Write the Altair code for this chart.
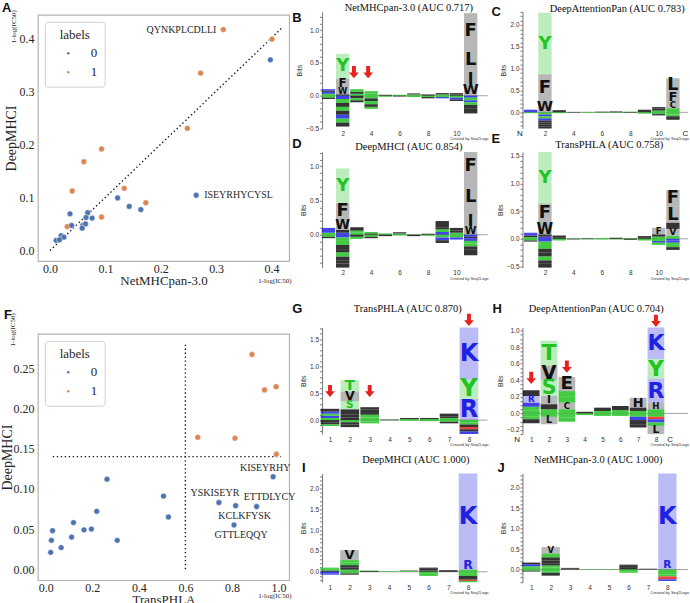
import altair as alt
import pandas as pd

SERIF = "Liberation Serif"
SANS = "Liberation Sans"
INK = "#262626"
BLUE, ORANGE, RED = "#4c72b0", "#dd8452", "#e8201e"

# ---------------- Panel A: NetMHCpan-3.0 vs DeepMHCI ----------------
A_net = [0.313, 0.401, 0.272, 0.248, 0.093, 0.061, 0.040, 0.134, 0.173, 0.093, 0.031,
         0.398, 0.264, 0.122, 0.143, 0.164, 0.036, 0.068, 0.065, 0.076, 0.039, 0.059,
         0.064, 0.058, 0.020, 0.025, 0.011, 0.017]
A_deep = [0.416, 0.398, 0.334, 0.230, 0.191, 0.167, 0.112, 0.117, 0.090, 0.063, 0.045,
          0.359, 0.104, 0.099, 0.083, 0.077, 0.069, 0.071, 0.062, 0.061, 0.047, 0.047,
          0.050, 0.042, 0.028, 0.025, 0.019, 0.020]
A_label = [1] * 11 + [0] * 17
A_pep = ["QYNKPLCDLLI"] + [""] * 11 + ["ISEYRHYCYSL"] + [""] * 15
A_diag = [0.0, 0.42]

# ---------------- Panel F: TransPHLA vs DeepMHCI ----------------
F_trans = [0.886, 0.940, 0.990, 0.653, 0.813, 0.991,
           0.977, 0.744, 0.816, 0.906, 0.809, 0.506, 0.527, 0.263, 0.219, 0.119,
           0.164, 0.196, 0.111, 0.029, 0.024, 0.307, 0.066, 0.021]
F_deep = [0.267, 0.223, 0.227, 0.164, 0.163, 0.143,
          0.115, 0.083, 0.079, 0.078, 0.055, 0.091, 0.065, 0.112, 0.072, 0.058,
          0.049, 0.050, 0.040, 0.048, 0.036, 0.036, 0.027, 0.021]
F_label = [1] * 6 + [0] * 18
F_pep = [""] * 6 + ["KISEYRHY", "YSKISEYR", "KCLKFYSK", "ETTDLYCY", "GTTLEQQY"] + [""] * 13
F_vline = {"x": [0.6], "y": [0.0], "y2": [0.279]}
F_hline = {"x": [0.03], "x2": [1.01], "y": [0.14]}

# ---------------- Sequence logos: (position, residue, bits) ----------------
B_logo = [
    (1, 'S', .03), (1, 'K', .03), (1, 'A', .02), (1, 'R', .02), (1, 'G', -.03), (1, 'V', -.02),
    (2, 'A', .02), (2, 'W', .10), (2, 'F', .14), (2, 'Y', .38),
    (2, 'K', -.05), (2, 'S', -.06), (2, 'I', -.06), (2, 'G', -.06), (2, 'V', -.06), (2, 'R', -.06), (2, 'Q', -.06), (2, 'L', -.06),
    (3, 'G', .03), (3, 'A', .03), (3, 'T', .04), (3, 'L', -.04), (3, 'S', -.03), (3, 'A', -.03),
    (4, 'S', .03), (4, 'Y', .04), (4, 'G', -.04), (4, 'A', -.04), (4, 'T', -.05), (4, 'L', -.04), (4, 'Q', -.03),
    (5, 'A', .015), (5, 'G', -.015), (6, 'S', .015), (6, 'A', -.01),
    (7, 'G', .02), (7, 'A', .015), (7, 'S', -.02), (8, 'A', .02), (8, 'G', -.02), (8, 'V', -.02),
    (9, 'S', .02), (9, 'A', .02), (9, 'G', -.02), (9, 'K', -.02),
    (10, 'A', .02), (10, 'L', .02), (10, 'G', -.03), (10, 'R', -.03), (10, 'V', -.02),
    (11, 'W', .17), (11, 'I', .18), (11, 'L', .38), (11, 'F', .53),
    (11, 'R', -.03), (11, 'G', -.04), (11, 'K', -.03), (11, 'S', -.04), (11, 'P', -.05), (11, 'V', -.08),
]
C_logo = [
    (1, 'K', .03), (1, 'R', .03), (1, 'G', -.02),
    (2, 'W', .26), (2, 'F', .61), (2, 'Y', 1.41),
    (2, 'G', -.05), (2, 'R', -.04), (2, 'S', -.05), (2, 'K', -.05), (2, 'A', -.04), (2, 'L', -.05), (2, 'I', -.05), (2, 'V', -.04),
    (3, 'A', .03), (3, 'L', .02), (3, 'G', -.02), (4, 'S', .01), (4, 'A', -.01),
    (5, 'G', .01), (5, 'S', -.01), (6, 'A', .015), (6, 'G', -.01), (7, 'L', .02), (7, 'S', -.01),
    (8, 'G', .015), (8, 'A', -.01), (9, 'A', .03), (9, 'L', .03), (9, 'S', -.03),
    (10, 'G', .04), (10, 'L', .05), (10, 'F', .03), (10, 'S', -.04), (10, 'A', -.03),
    (11, 'T', .09), (11, 'C', .15), (11, 'F', .23), (11, 'L', .31),
    (11, 'G', -.05), (11, 'S', -.04), (11, 'I', -.08),
]
D_logo = [
    (1, 'S', .03), (1, 'K', .04), (1, 'R', .03), (1, 'G', -.03), (1, 'A', -.02),
    (2, 'K', .03), (2, 'A', .04), (2, 'W', .15), (2, 'F', .24), (2, 'Y', .51),
    (2, 'R', -.04), (2, 'S', -.05), (2, 'G', -.06), (2, 'V', -.06), (2, 'I', -.05), (2, 'Q', -.06), (2, 'A', -.06), (2, 'P', -.04), (2, 'L', -.06),
    (3, 'G', .03), (3, 'S', .03), (3, 'M', .05), (3, 'A', -.03), (3, 'G', -.03),
    (4, 'A', .02), (4, 'G', .02), (4, 'S', -.03), (4, 'L', -.02), (5, 'S', .02), (5, 'A', -.02),
    (6, 'G', .02), (6, 'A', .015), (6, 'S', -.01), (7, 'G', .005), (7, 'A', -.02),
    (8, 'A', .015), (8, 'G', -.015),
    (9, 'K', .04), (9, 'S', .04), (9, 'A', .03), (9, 'F', .09), (9, 'G', -.04), (9, 'R', -.04), (9, 'V', -.04),
    (10, 'S', .03), (10, 'A', .03), (10, 'L', .04), (10, 'G', -.04), (10, 'K', -.03),
    (11, 'W', .12), (11, 'I', .17), (11, 'L', .51), (11, 'F', .41),
    (11, 'R', -.03), (11, 'E', -.02), (11, 'K', -.04), (11, 'S', -.04), (11, 'G', -.04), (11, 'I', -.05), (11, 'V', -.08),
]
E_logo = [
    (1, 'S', .03), (1, 'A', .03), (1, 'K', .03), (1, 'R', .02), (1, 'G', -.03), (1, 'A', -.02),
    (2, 'K', .04), (2, 'A', .04), (2, 'W', .21), (2, 'F', .35), (2, 'Y', .93),
    (2, 'R', -.05), (2, 'S', -.06), (2, 'G', -.07), (2, 'V', -.07), (2, 'I', -.07), (2, 'Q', -.07), (2, 'P', -.05), (2, 'L', -.08),
    (3, 'A', .03), (3, 'L', .03), (3, 'G', -.03), (4, 'S', .01), (4, 'A', -.01),
    (5, 'A', .01), (5, 'G', -.01), (6, 'G', .015), (6, 'S', -.01), (7, 'A', .02), (7, 'G', -.01),
    (8, 'S', .015), (8, 'A', -.015), (9, 'A', .03), (9, 'L', .02), (9, 'S', -.03),
    (10, 'S', .04), (10, 'L', .04), (10, 'F', .12), (10, 'G', -.04), (10, 'R', -.03), (10, 'Q', -.04),
    (11, 'T', .05), (11, 'V', .13), (11, 'I', .11), (11, 'L', .29), (11, 'F', .30),
    (11, 'R', -.03), (11, 'K', -.04), (11, 'G', -.04), (11, 'S', -.04), (11, 'V', -.05),
]
G_logo = [
    (1, 'S', .04), (1, 'R', .04), (1, 'G', .04), (1, 'K', .04), (1, 'A', .05), (1, 'L', -.04), (1, 'V', -.04), (1, 'G', -.03),
    (2, 'L', .05), (2, 'A', .05), (2, 'I', .10), (2, 'S', .15), (2, 'V', .18), (2, 'T', .21), (2, 'G', -.04), (2, 'P', -.04), (2, 'L', -.05),
    (3, 'G', .05), (3, 'S', .05), (3, 'A', .05), (3, 'L', .05), (3, 'M', .04), (3, 'G', -.03), (3, 'S', -.03),
    (4, 'A', .01), (4, 'G', -.005), (5, 'G', .02), (5, 'A', .02), (5, 'S', -.01),
    (6, 'S', .02), (6, 'A', .02), (6, 'G', -.02), (7, 'G', .04), (7, 'A', .03), (7, 'L', .05), (7, 'S', -.03), (7, 'V', -.03),
    (8, 'R', .39), (8, 'Y', .36), (8, 'K', .97),
    (8, 'G', -.04), (8, 'S', -.04), (8, 'A', -.05), (8, 'D', -.04), (8, 'L', -.04), (8, 'K', -.05),
]
H_logo = [
    (1, 'G', .04), (1, 'S', .04), (1, 'K', .05), (1, 'R', .08), (1, 'A', .07), (1, 'S', -.04), (1, 'G', -.03), (1, 'V', -.05),
    (2, 'G', .05), (2, 'A', .06), (2, 'I', .10), (2, 'S', .19), (2, 'V', .18), (2, 'T', .30), (2, 'G', -.04), (2, 'L', -.09),
    (3, 'G', .05), (3, 'C', .08), (3, 'Y', .07), (3, 'S', .07), (3, 'E', .17), (3, 'S', -.05), (3, 'G', -.05),
    (4, 'A', .02), (4, 'G', -.02), (5, 'S', .03), (5, 'A', .04), (5, 'G', -.03),
    (6, 'G', .04), (6, 'L', .05), (6, 'S', -.03),
    (7, 'S', .03), (7, 'A', .04), (7, 'H', .12), (7, 'G', -.04), (7, 'K', -.04), (7, 'L', -.05), (7, 'A', -.04),
    (8, 'G', .05), (8, 'H', .08), (8, 'R', .29), (8, 'Y', .24), (8, 'K', .38),
    (8, 'S', -.04), (8, 'D', -.03), (8, 'K', -.04), (8, 'G', -.04), (8, 'L', -.10),
]
I_logo = [
    (1, 'A', .03), (1, 'S', .04), (1, 'G', .03), (1, 'K', -.04), (1, 'R', -.03),
    (2, 'G', .05), (2, 'L', .05), (2, 'I', .06), (2, 'S', .06), (2, 'Q', .06), (2, 'V', .24), (2, 'S', -.04), (2, 'A', -.03),
    (3, 'A', .02), (3, 'G', .01), (4, 'S', .015), (5, 'G', .02), (5, 'A', .01),
    (6, 'A', .03), (6, 'L', .04), (6, 'M', .03), (6, 'G', -.05), (6, 'S', -.05),
    (7, 'A', .02), (7, 'L', .02),
    (8, 'T', .05), (8, 'R', .23), (8, 'K', 2.08),
    (8, 'G', -.05), (8, 'S', -.05), (8, 'L', -.05), (8, 'A', -.04), (8, 'D', -.03), (8, 'Q', -.03),
]
J_logo = [
    (1, 'S', .04), (1, 'G', .04), (1, 'K', .05), (1, 'A', .04), (1, 'G', -.03), (1, 'V', -.02),
    (2, 'G', .05), (2, 'S', .05), (2, 'A', .04), (2, 'L', .08), (2, 'M', .08), (2, 'Q', .09), (2, 'V', .16),
    (2, 'S', -.04), (2, 'G', -.04), (2, 'A', -.07),
    (3, 'A', .02), (3, 'L', .02), (4, 'G', .01), (5, 'S', .01),
    (6, 'A', .04), (6, 'L', .05), (6, 'M', .03), (6, 'G', -.04), (6, 'S', -.04), (7, 'A', .02),
    (8, 'R', .20), (8, 'K', 2.15),
    (8, 'G', -.06), (8, 'S', -.06), (8, 'Q', -.05), (8, 'D', -.07), (8, 'K', -.04),
]
# red arrows (position, bits)
B_arrows = {"pos": [3, 4], "bits": [0.36, 0.36]}
G_arrows = {"pos": [1, 3, 8], "bits": [0.54, 0.54, 1.86]}
H_arrows = {"pos": [1, 3, 8], "bits": [0.43, 0.565, 1.12]}

ARROW = "M-0.32,-1L0.32,-1L0.32,0.05L0.8,0.05L0,1L-0.8,0.05L-0.32,0.05Z"
AA_COLOR = ("indexof('D', datum.aa) >= 0 ? '#e8201e' : "
            "indexof('KR', datum.aa) >= 0 ? '#1f22e0' : "
            "indexof('GNQSTY', datum.aa) >= 0 ? '#22c322' : '#111111'")


def note(text, x, y, **kw):
    return alt.Chart(pd.DataFrame({"t": [text]})).mark_text(**kw).encode(
        x=alt.value(x), y=alt.value(y), text="t:N")


LEGEND = alt.Legend(orient="top-left", offset=7, title="labels", titleFont=SERIF, titleFontSize=13,
                    titleFontWeight="normal", titleColor=INK, titleAnchor="middle",
                    labelFont=SERIF, labelFontSize=13, labelColor=INK, symbolType="circle",
                    symbolSize=6, symbolStrokeWidth=0, padding=7, strokeColor="#d0d0d0",
                    fillColor="white", cornerRadius=3, labelOffset=16, rowPadding=5, symbolOffset=10)

SW, SH = 252, 247
LW = 166


def scatter(x, y, lab, pep, xdom, ydom, xvals, yvals, xfmt, yfmt, xtitle, ytitle,
            line_layers, pep_style, letter, letter_xy, letter_base, left_xy, bottom_xy, ytp):
    df = pd.DataFrame({"x": x, "y": y, "labels": [str(v) for v in lab], "pep": pep})
    xs = alt.Scale(domain=xdom, nice=False, zero=False)
    ys = alt.Scale(domain=ydom, nice=False, zero=False)
    xax = alt.Axis(values=xvals, format=xfmt, grid=False, domain=False, ticks=False,
                   labelFont=SERIF, labelFontSize=12, labelColor=INK, labelPadding=2,
                   labelFlush=False, titleFont=SERIF, titleFontSize=13,
                   titleFontWeight="normal", titleColor=INK, titlePadding=0)
    yax = alt.Axis(values=yvals, format=yfmt, grid=False, domain=False, ticks=False,
                   labelFont=SERIF, labelFontSize=12, labelColor=INK, labelPadding=4,
                   labelFlush=False, titleFont=SERIF, titleFontSize=14,
                   titleFontWeight="normal", titleColor=INK, titlePadding=ytp)
    X = alt.X("x:Q", scale=xs, axis=xax, title=xtitle)
    Y = alt.Y("y:Q", scale=ys, axis=yax, title=ytitle)
    pts = alt.Chart(df).mark_circle(size=34, opacity=1, stroke="white", strokeWidth=0.5).encode(
        x=X, y=Y,
        color=alt.Color("labels:N", scale=alt.Scale(domain=["0", "1"], range=[BLUE, ORANGE]),
                        legend=LEGEND))
    labs = [alt.Chart(df).transform_filter(alt.datum.pep == p).mark_text(
        font=SERIF, fontSize=10, color=INK, align=a, baseline="middle", dx=dx, dy=dy
    ).encode(x=X, y=Y, text="pep:N") for p, (dx, dy, a) in pep_style.items()]
    notes = [
        note(letter, letter_xy[0], letter_xy[1], font=SANS, fontWeight="bold", fontSize=13,
             color="#111", align="left", baseline=letter_base),
        note("1-log(IC50)", left_xy[0], left_xy[1], font=SERIF, fontSize=7, color=INK,
             angle=270, align="center", baseline="middle"),
        note("1-log(IC50)", bottom_xy[0], bottom_xy[1], font=SERIF, fontSize=7, color=INK,
             align="left", baseline="middle"),
    ]
    return alt.layer(*line_layers(X, Y), pts, *labs, *notes).properties(
        width=SW, height=SH, view=alt.ViewBackground(stroke="#b3b3b3", strokeWidth=1.2))


def A_lines(X, Y):
    d = pd.DataFrame({"x": A_diag, "y": A_diag})
    return [alt.Chart(d).mark_line(color="#1a1a1a", strokeDash=[1.4, 2.6], strokeWidth=1.4).encode(x=X, y=Y)]


def F_lines(X, Y):
    v = pd.DataFrame(F_vline)
    h = pd.DataFrame(F_hline)
    return [
        alt.Chart(v).mark_rule(color="#1a1a1a", strokeDash=[1.4, 2.6], strokeWidth=1.4).encode(x=X, y=Y, y2="y2:Q"),
        alt.Chart(h).mark_rule(color="#1a1a1a", strokeDash=[1.4, 2.6], strokeWidth=1.4).encode(x=X, x2="x2:Q", y=Y),
    ]


A = scatter(A_net, A_deep, A_label, A_pep, [-0.022, 0.432], [-0.0201, 0.4437],
            [0, 0.1, 0.2, 0.3, 0.4], [0, 0.1, 0.2, 0.3, 0.4], ".1f", ".1f",
            "NetMHCpan-3.0", "DeepMHCI", A_lines,
            {"QYNKPLCDLLI": (-7, 0, "right"), "ISEYRHYCYSL": (8, 0, "left")},
            "A", (-36, -13), "top", (-24, 12), (221, 267), 0)

F = scatter(F_trans, F_deep, F_label, F_pep, [-0.034, 1.046], [-0.0136, 0.2926],
            [0, 0.2, 0.4, 0.6, 0.8, 1.0], [0, 0.05, 0.1, 0.15, 0.2, 0.25], ".1f", ".2f",
            "TransPHLA", "DeepMHCI", F_lines,
            {"KISEYRHY": (-8, -9, "center"), "YSKISEYR": (-4, -10, "center"),
             "ETTDLYCY": (13, -10, "center"), "KCLKFYSK": (9, 10, "center"),
             "GTTLEQQY": (7, 10, "center")},
            "F", (-34, -15), "alphabetic", (-25, -4), (221, 263), -2)


def logo(recs, title, tdx, tdy, letter, lxy, w, h, xdom, ydom, ymajor, yminor, xvals,
         arrows=None, arrow_dx=0, nc=None, maxfs=18):
    df = pd.DataFrame(recs, columns=["pos", "aa", "bits"])
    ppb = h / (ydom[1] - ydom[0])
    xs = alt.Scale(domain=xdom, nice=False, zero=False)
    ys = alt.Scale(domain=ydom, nice=False, zero=False)
    k0 = int(round(ydom[0] / yminor + 0.49))
    k1 = int(ydom[1] / yminor + 1e-6)
    yvals = [round(k * yminor, 3) for k in range(k0, k1 + 1)]
    xax = alt.Axis(values=xvals, grid=False, domain=False, ticks=False, labelFont=SANS,
                   labelFontSize=6.5, labelColor="#333", labelPadding=2, labelFlush=False)
    yax = alt.Axis(values=yvals, grid=False, domainColor="#777", tickColor="#777", tickSize=2.5,
                   labelExpr=f"abs(datum.value/{ymajor} - round(datum.value/{ymajor})) < 0.001 ? format(datum.value, '.1f') : ''",
                   labelOverlap=False, labelFlush=False, labelFont=SANS, labelFontSize=6.5,
                   labelColor="#333", labelPadding=1, titleFont=SANS, titleFontSize=7,
                   titleFontWeight="normal", titleColor="#333", titlePadding=3)

    def X(f):
        return alt.X(f, scale=xs, axis=xax, title=None)

    def Y(f):
        return alt.Y(f, scale=ys, axis=yax, title="Bits")

    base = (alt.Chart(df)
            .transform_window(idx="row_number()")
            .transform_stack(stack="bits", groupby=["pos"], as_=["b0", "b1"], offset="zero",
                             sort=[alt.SortField("idx", order="ascending")])
            .transform_calculate(mid="(datum.b0 + datum.b1) / 2",
                                 hpx=f"abs(datum.b1 - datum.b0) * {ppb:.3f}",
                                 xl="datum.pos - 0.47", xr="datum.pos + 0.47", col=AA_COLOR))
    zero = base.transform_filter("datum.idx == 1").mark_rule(color="#666", strokeWidth=0.6).encode(
        y=alt.YDatum(0, scale=ys, axis=yax, title="Bits"))
    rects = base.transform_calculate(op="datum.hpx >= 6.5 ? 0.3 : 0.85").mark_rect(strokeWidth=0).encode(
        x=X("xl:Q"), x2="xr:Q", y=Y("b0:Q"), y2="b1:Q",
        color=alt.Color("col:N", scale=None), opacity=alt.Opacity("op:Q", scale=None))
    txt = (base.transform_filter("datum.hpx >= 6.5")
           .transform_calculate(fs=f"min(datum.hpx * 1.3, {maxfs})")
           .mark_text(font="DejaVu Sans", fontWeight="bold", baseline="middle", align="center")
           .encode(x=X("pos:Q"), y=Y("mid:Q"), text="aa:N",
                   color=alt.Color("col:N", scale=None), size=alt.Size("fs:Q", scale=None)))
    layers = [zero, rects, txt]
    if arrows is not None:
        layers.append(alt.Chart(pd.DataFrame(arrows)).mark_point(
            shape=ARROW, filled=True, color=RED, opacity=1, size=150, strokeWidth=0, xOffset=arrow_dx
        ).encode(x=X("pos:Q"), y=Y("bits:Q")))
    if nc is not None:
        layers.append(alt.Chart(pd.DataFrame({"p": nc, "t": ["N", "C"]})).mark_text(
            font=SANS, fontSize=8, color="#222", baseline="middle"
        ).encode(x=X("p:Q"), y=alt.value(h + 6), text="t:N"))
    layers += [
        note(title, w / 2 + tdx, tdy, font=SERIF, fontSize=10.5, color="#111",
             align="center", baseline="middle"),
        note(letter, lxy[0], lxy[1], font=SANS, fontWeight="bold", fontSize=13, color="#111",
             align="left", baseline="alphabetic"),
        note("Created by Seq2Logo", w + 1, h + 11, font=SANS, fontSize=4, color="#333",
             align="right", baseline="middle"),
    ]
    return alt.layer(*layers).properties(width=w, height=h)


P11 = [2, 4, 6, 8, 10]
P8 = [1, 2, 3, 4, 5, 6, 7, 8]
B = logo(B_logo, "NetMHCpan-3.0 (AUC 0.717)", 4, -4, "B", (-30, 10), LW, 117,
         [0.55, 12.19], [-0.5, 1.28], 0.5, 0.1, P11, arrows=B_arrows, arrow_dx=-3)
C = logo(C_logo, "DeepAttentionPan (AUC 0.783)", 12, -3, "C", (-31, 4), LW, 117,
         [0.42, 12.06], [-0.37, 2.3], 0.5, 0.1, P11, nc=[0.24, 11.88])
D = logo(D_logo, "DeepMHCI (AUC 0.854)", 4, -5, "D", (-30, -4), LW, 116,
         [0.55, 12.19], [-0.48, 1.21], 0.5, 0.1, P11)
E = logo(E_logo, "TransPHLA (AUC 0.758)", 4, -7, "E", (-31, -9), LW, 116,
         [0.42, 12.06], [-0.52, 1.57], 0.5, 0.1, P11)
G = logo(G_logo, "TransPHLA (AUC 0.870)", 3, -18, "G", (-30, -14), LW, 107,
         [0.6, 8.94], [-0.26, 1.72], 0.5, 0.1, P8, arrows=G_arrows, maxfs=24)
H = logo(H_logo, "DeepAttentionPan (AUC 0.704)", -9, -18, "H", (-30, -14), LW, 107,
         [0.51, 9.80], [-0.25, 1.04], 0.2, 0.05, P8, arrows=H_arrows, nc=[0.21, 8.8], maxfs=22)
I = logo(I_logo, "DeepMHCI (AUC 1.000)", 11, -14, "I", (-20, -2), LW, 109,
         [0.61, 8.99], [-0.25, 2.36], 0.5, 0.1, P8, maxfs=24)
J = logo(J_logo, "NetMHCpan-3.0 (AUC 1.000)", -7, -14, "J", (-25, -2), LW, 109,
         [0.55, 9.06], [-0.31, 2.35], 0.5, 0.1, P8, maxfs=24)

# rows of logos (leaf charts -> flush bounds); outer levels use full bounds
row_bc = alt.hconcat(B, C, spacing=35, bounds="flush")
row_de = alt.hconcat(D, E, spacing=35, bounds="flush")
row_gh = alt.hconcat(G, H, spacing=35, bounds="flush")
row_ij = alt.hconcat(I, J, spacing=35, bounds="flush")
top_r = alt.vconcat(row_bc, row_de, spacing=-10.5)
bot_r = alt.vconcat(row_gh, row_ij, spacing=5.5)
right = alt.vconcat(top_r, bot_r, spacing=21.5)

# a 1-px invisible strip on top of the left column lets it start lower than the logos
strip = alt.Chart(pd.DataFrame({"a": [0]})).mark_point(opacity=0, size=1).encode(
    x=alt.value(1), y=alt.value(0.5)).properties(width=SW, height=1)
scatters = alt.vconcat(A, F, spacing=20).resolve_scale(color="independent").resolve_legend(color="independent")
left = alt.vconcat(strip, scatters, spacing=-13).resolve_scale(color="independent").resolve_legend(color="independent")

chart = (alt.concat(left, right, columns=2, spacing=-5, align="none")
         .resolve_scale(color="independent").resolve_legend(color="independent")
         .properties(padding={"left": 0, "top": 0, "right": 0, "bottom": 0})
         .configure_view(stroke="transparent"))

chart.save("out.html", embed_options={"renderer": "svg", "actions": False})
